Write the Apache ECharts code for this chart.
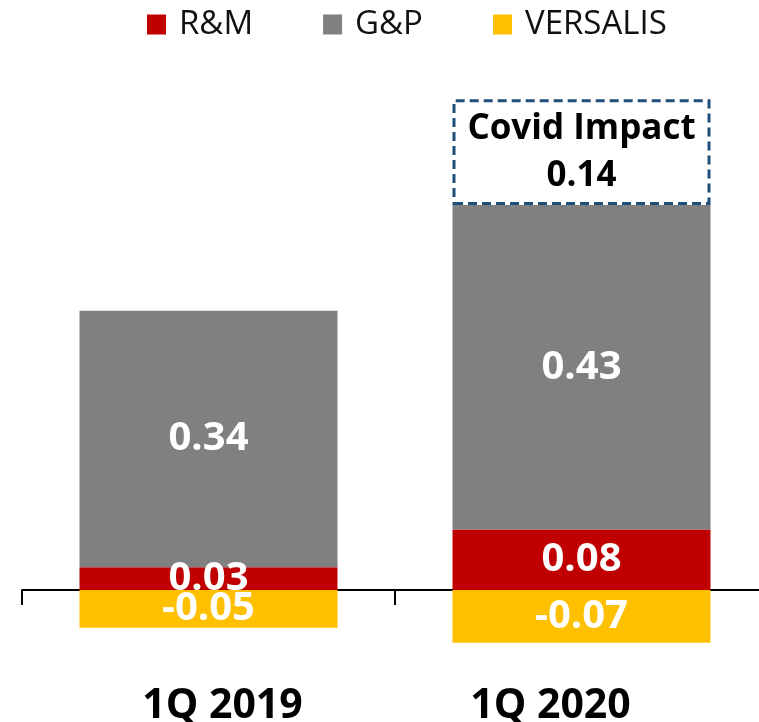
<!DOCTYPE html>
<html>
<head>
<meta charset="utf-8">
<script src="https://cdn.jsdelivr.net/npm/echarts@6/dist/echarts.min.js"></script>
<style>html,body{margin:0;padding:0;background:#fff;}#c{width:759px;height:722px;}</style>
</head>
<body>
<div id="c"></div>
<script>
const categories = ['1Q 2019', '1Q 2020'];
const rmValues = [0.03, 0.08];
const gpValues = [0.34, 0.43];
const versalisValues = [-0.05, -0.07];
const covidValues = [null, 0.14];
const covidLabel = 'Covid Impact';

const FONT = "'Open Sans', 'Liberation Sans', sans-serif";
const chart = echarts.init(document.getElementById('c'));
const valueLabel = {
  show: true, position: 'inside', color: '#fff', fontWeight: 'bold',
  fontSize: 40, fontFamily: FONT,
  formatter: p => p.value.toFixed(2)
};
chart.setOption({
  animation: false,
  backgroundColor: '#fff',
  legend: {
    data: ['R&M', 'G&P', 'VERSALIS'],
    left: 147, top: 8, padding: 0,
    icon: 'rect', itemWidth: 19, itemHeight: 20, itemGap: 70,
    textStyle: { fontSize: 33, fontFamily: FONT, color: '#111', padding: [0, 0, 0, 8] }
  },
  grid: { left: 22, right: -9, top: 61.5, bottom: 56.5, containLabel: false, outerBoundsMode: 'none' },
  xAxis: {
    type: 'category', data: categories,
    axisLine: { onZero: true, lineStyle: { color: '#000', width: 2 } },
    axisTick: { show: true, length: 15, lineStyle: { color: '#000', width: 2 } },
    axisLabel: {
      margin: 20,
      formatter: (v, i) => i === 0 ? '{a|' + v + '}' : '{b|' + v + '}',
      rich: {
        a: { fontSize: 41, fontWeight: 'bold', fontFamily: FONT, color: '#000', padding: [0, 0, 0, 28] },
        b: { fontSize: 41, fontWeight: 'bold', fontFamily: FONT, color: '#000', padding: [0, 62, 0, 0] }
      }
    }
  },
  yAxis: { type: 'value', min: -0.1, max: 0.7, show: false, splitLine: { show: false } },
  series: [
    { name: 'R&M', type: 'bar', stack: 's', barWidth: 258, data: rmValues,
      itemStyle: { color: '#C00000' }, label: valueLabel },
    { name: 'G&P', type: 'bar', stack: 's', barWidth: 258, data: gpValues,
      itemStyle: { color: '#808080' }, label: valueLabel },
    { name: 'VERSALIS', type: 'bar', stack: 's', barWidth: 258, data: versalisValues,
      itemStyle: { color: '#FFC000' }, label: valueLabel, z: 3 },
    { name: 'Covid', type: 'bar', stack: 's', barWidth: 258, data: covidValues,
      itemStyle: { color: '#fff', borderColor: '#1F4E79', borderWidth: 3, borderType: [9, 5] },
      label: {
        show: true, position: 'inside', color: '#000', fontWeight: 'bold',
        fontSize: 35, fontFamily: FONT, lineHeight: 47,
        formatter: p => covidLabel + '\n' + p.value.toFixed(2)
      }
    }
  ]
});
</script>
</body>
</html>
